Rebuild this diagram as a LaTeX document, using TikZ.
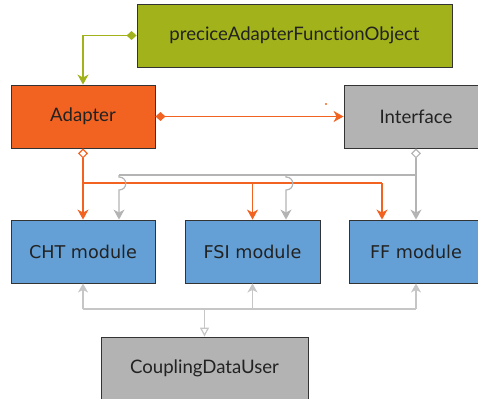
\documentclass[tikz,border=0pt]{standalone}
\usepackage{fontspec}
\newfontfamily\lato[Ligatures=NoCommon]{Lato}
\newfontfamily\dejavu{DejaVu Sans}
\usetikzlibrary{arrows.meta}
\definecolor{cgreen}{HTML}{A2B21B}
\definecolor{corange}{HTML}{F26322}
\definecolor{cgray}{HTML}{B3B3B3}
\definecolor{cblue}{HTML}{64A0D6}
\definecolor{cline}{HTML}{B4B4B4}
\definecolor{clight}{HTML}{C6C6C6}
\definecolor{ctext}{HTML}{222222}
\tikzset{
  box/.style={draw=black!80, line width=0.9bp, inner sep=0pt, minimum height=63bp, text=ctext},
  toplabel/.style={font=\lato\fontsize{18.6bp}{22bp}\selectfont},
  modlabel/.style={font=\dejavu\fontsize{17.6bp}{21bp}\selectfont},
  mytip/.tip={Stealth[length=10bp,width=11bp,inset=3bp]},
  mysmalltip/.tip={Stealth[length=9bp,width=10bp,inset=2.5bp]},
  myfdia/.tip={Diamond[length=10bp,width=9bp]},
  myodia/.tip={Diamond[open,length=10bp,width=10bp]},
  mytri/.tip={Triangle[open,length=9bp,width=9bp]},
  conn/.style={line width=1.2bp},
}
\begin{document}
\begin{tikzpicture}[x=1bp,y=-1bp]
\useasboundingbox (0,0) rectangle (478,398);
\begin{scope}
\clip (0,0) rectangle (478,398);
% boxes
\node[box, toplabel, fill=cgreen, minimum width=315bp] (pafo) at (294.5,35.5) {preciceAdapterFunctionObject};
\node[box, toplabel, fill=corange, minimum width=144bp] (adapter) at (83,116.5) {Adapter};
\node[box, toplabel, fill=cgray, minimum width=144bp] (interface) at (416,116.5) {Interface};
\node[box, modlabel, fill=cblue, minimum width=144bp] (cht) at (83,251.5) {CHT module};
\node[box, modlabel, fill=cblue, minimum width=135bp] (fsi) at (252.5,251.5) {FSI module};
\node[box, modlabel, fill=cblue, minimum width=134bp] (ff) at (416,251.5) {FF module};
\node[box, toplabel, fill=cgray, minimum width=207bp] (cdu) at (204.5,368.5) {CouplingDataUser};

% green connector
\draw[conn, cgreen, myfdia-mytip] (pafo.west) -| (adapter.north);
% orange association
\draw[conn, corange, myfdia-mytip] (adapter.east) -- (interface.west);
\fill[corange] (326,104) circle (1.1bp);

% orange composition from Adapter
\coordinate (oj) at (83,183);
\coordinate (ofsi) at (252.5,183);
\coordinate (off) at (382,183);
\draw[conn, corange, myodia-mytip] (adapter.south) -- (cht.north);
\draw[conn, corange] (oj) -- (off);
\draw[conn, corange, -mytip] (ofsi) -- (fsi.north);
\draw[conn, corange, -mytip] (off) -- (off |- ff.north);

% gray composition from Interface
\coordinate (gj) at (416,175);
\coordinate (gfsi) at (286,175);
\coordinate (gcht) at (119,175);
\draw[conn, cline, myodia-mytip] (interface.south) -- (ff.north);
\draw[conn, cline] (gj) -- (gcht);
\draw[conn, cline, -mytip] (gfsi) -- (286,177) .. controls (295,177) and (295,190) .. (286,190) -- (gfsi |- fsi.north);
\draw[conn, cline, -mytip] (gcht) -- (119,177) .. controls (128,177) and (128,190) .. (119,190) -- (gcht |- cht.north);

% bottom connectors
\coordinate (bj) at (204.5,309);
\coordinate (bl) at (83,309);
\coordinate (bm) at (252.5,309);
\coordinate (br) at (416,309);
\draw[conn, clight] (bl) -- (br);
\draw[conn, clight, -mytri] (bj) -- (cdu.north);
\draw[conn, clight, -mysmalltip] (bl) -- (cht.south);
\draw[conn, clight, -mysmalltip] (bm) -- (fsi.south);
\draw[conn, clight, -mysmalltip] (br) -- (ff.south);
\end{scope}
\end{tikzpicture}
\end{document}
